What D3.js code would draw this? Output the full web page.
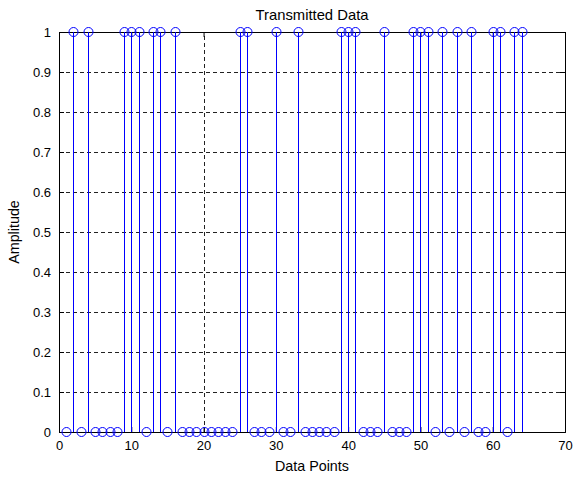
<!DOCTYPE html>
<html><head><meta charset="utf-8">
<script src="https://cdn.jsdelivr.net/npm/d3@7"></script>
<style>body{margin:0;background:#fff}svg{display:block}text{font-family:Arial,"Liberation Sans",sans-serif}</style>
</head><body>
<script>
const title = "Transmitted Data";
const xLabel = "Data Points";
const yLabel = "Amplitude";
const indices = d3.range(1, 65);
const values = [0,1,0,1,0,0,0,0,1,1,1,0,1,1,0,1,0,0,0,0,0,0,0,0,1,1,0,0,0,1,0,0,1,0,0,0,0,0,1,1,1,0,0,0,1,0,0,0,1,1,1,0,1,0,1,0,1,0,0,1,1,0,1,1];
const xTicks = [0,10,20,30,40,50,60,70];
const yTicks = [0,0.1,0.2,0.3,0.4,0.5,0.6,0.7,0.8,0.9,1];

const W = 573, H = 477;
const m = {l:59, r:8, t:32, b:45};
const svg = d3.select("body").append("svg").attr("width", W).attr("height", H);
const x = d3.scaleLinear().domain([0,70]).range([m.l, W-m.r]);
const y = d3.scaleLinear().domain([0,1]).range([H-m.b, m.t]);
const px = v => Math.round(x(v)) + 0.5;
const data = indices.map((d,i)=>({i:d, v:values[i]}));

// grid
const g = svg.append("g");
g.selectAll(".gy").data(yTicks.filter(d=>d>0&&d<1)).join("line")
  .attr("x1", x(0)).attr("x2", x(70)).attr("y1", d=>Math.round(y(d))+0.5).attr("y2", d=>Math.round(y(d))+0.5)
  .attr("stroke","#222").attr("stroke-width",1).attr("stroke-dasharray","4,3");
g.selectAll(".gx").data(xTicks.filter(d=>d>0&&d<70)).join("line")
  .attr("y1", y(0)).attr("y2", y(1)).attr("x1", d=>px(d)).attr("x2", d=>px(d))
  .attr("stroke","#222").attr("stroke-width",1).attr("stroke-dasharray","4,3");

// axes
const ax = svg.append("g");
ax.append("g").attr("transform",`translate(0,${y(0)})`)
  .call(d3.axisBottom(x).tickValues(xTicks).tickSize(-5).tickPadding(9).tickFormat(d3.format("d")));
ax.append("g").attr("transform",`translate(0,${y(1)})`)
  .call(d3.axisTop(x).tickValues(xTicks).tickSize(-5).tickFormat(""));
ax.append("g").attr("transform",`translate(${x(0)},0)`)
  .call(d3.axisLeft(y).tickValues(yTicks).tickSize(-5).tickPadding(8).tickFormat(d=>d3.format("")(d)));
ax.append("g").attr("transform",`translate(${x(70)},0)`)
  .call(d3.axisRight(y).tickValues(yTicks).tickSize(-5).tickFormat(""));
ax.selectAll(".domain").attr("stroke","#000");
ax.selectAll(".tick line").attr("stroke","#000");
ax.selectAll(".tick text").attr("font-size","13px").attr("fill","#000")
  .attr("font-family","Arial, 'Liberation Sans', sans-serif");

// stems
const s = svg.append("g");
s.selectAll("line").data(data).join("line")
  .attr("x1", d=>px(d.i)).attr("x2", d=>px(d.i)).attr("y1", y(0)).attr("y2", d=>y(d.v))
  .attr("stroke","#0000ff").attr("stroke-width",1);
s.selectAll("circle").data(data).join("circle")
  .attr("cx", d=>px(d.i)).attr("cy", d=>y(d.v)).attr("r",4.5)
  .attr("fill","none").attr("stroke","#0000ff").attr("stroke-width",1);

// labels
svg.append("text").attr("x",(x(0)+x(70))/2).attr("y",20).attr("text-anchor","middle")
  .attr("font-size","14.8px").text(title);
svg.append("text").attr("x",(x(0)+x(70))/2).attr("y",471).attr("text-anchor","middle")
  .attr("font-size","14.3px").text(xLabel);
svg.append("text").attr("transform",`translate(19,${(y(0)+y(1))/2}) rotate(-90)`).attr("text-anchor","middle")
  .attr("font-size","14.3px").text(yLabel);
</script>
</body></html>
